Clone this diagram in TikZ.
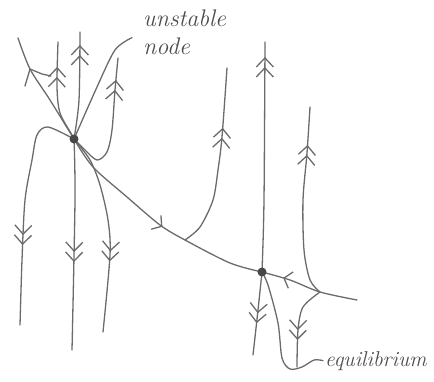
\documentclass[tikz,border=0pt]{standalone}
\usepackage{fontspec}
\usepackage{tikz}
\usetikzlibrary{arrows.meta,decorations.markings,backgrounds}
\tikzset{
  palya/.style={draw=black!58,line width=1.3pt,line cap=round,line join=round},
  egynyil/.style={postaction={decorate,decoration={markings,
      mark=at position #1 with {\arrow{Straight Barb[length=7pt,width=17pt]}}}}},
  ketnyil/.style={postaction={decorate,decoration={markings,
      mark=at position #1 with {\arrow{Straight Barb[length=9pt,width=17pt]}
        \pgftransformxshift{-10pt}\arrow{Straight Barb[length=9pt,width=17pt]}}}}},
  egyensuly/.style={circle,fill=black!72,inner sep=0pt,minimum size=9pt},
  felirat/.style={font=\fontsize{#1}{28}\selectfont\itshape,text=black!70,align=left,inner sep=0pt},
}
\begin{document}
\begin{tikzpicture}[x=1pt,y=-1pt]
  \useasboundingbox (0,0) rectangle (434,381);
  \node[egyensuly] (e1) at (74,139) {};
  \node[egyensuly] (e2) at (262,272) {};
  \node[felirat=24,anchor=north west] (instabil) at (143,10) {unstable\\node};
  \node[felirat=21.5,anchor=base west] (stabil) at (325,366) {equilibrium};
  \coordinate (s0) at (30,69);
  \coordinate (s1) at (185,240);
  \coordinate (s2) at (320,292);
  \begin{scope}[on background layer]
    \draw[palya] plot[smooth] coordinates {(e1.center) (50,100) (s0) (18,38)};
    \draw[palya] (25,86) -- (s0) -- (42,74) -- (51,76);
    \draw[palya,egynyil=-110pt] plot[smooth] coordinates {(e1.center) (93,167) (127,197) (160,225) (s1) (230,263) (e2.center)};
    \draw[palya,egynyil=-22pt] plot[smooth] coordinates {(357,300) (s2) (290,280) (e2.center)};
    \draw[palya,ketnyil=-13pt] plot[smooth] coordinates {(e1.center) (79,100) (80,32)};
    \draw[palya,ketnyil=-25pt] plot[smooth] coordinates {(e1.center) (72,135) (60,113) (57,87) (58,42)};
    \draw[palya,ketnyil=-88pt] plot[smooth] coordinates {(e1.center) (75,200) (72,350)};
    \draw[palya] plot[smooth] coordinates {(e1.center) (97,87) (115,50) ([xshift=-11pt,yshift=-5pt]instabil.west)};
    \draw[palya,ketnyil=-22pt] plot[smooth] coordinates {(e1.center) (85,150) (97,160) (107,152) (112,130) (115,90) (118,58)};
    \draw[palya,ketnyil=-80pt] plot[smooth] coordinates {(e1.center) (48,127) (37,135) (32,160) (25,200) (22,260) (20,325)};
    \draw[palya,ketnyil=-71pt] plot[smooth] coordinates {(e1.center) (90,160) (100,185) (108,220) (110,255) (103,332)};
    \draw[palya,ketnyil=-60pt] plot[smooth] coordinates {(s1) (200,227) (213,200) (218,170) (222,137) (227,68)};
    \draw[palya,ketnyil=-15pt] plot[smooth] coordinates {(e2.center) (264,200) (265,42)};
    \draw[palya,ketnyil=-32pt] plot[smooth] coordinates {(e2.center) (258,310) (253,355)};
    \draw[palya,ketnyil=-38pt] plot[smooth] coordinates {(s2) (310,280) (304,250) (303,200) (307,153) (310,107)};
    \draw[palya,ketnyil=-27pt] plot[smooth] coordinates {(s2) (303,307) (298,330) (297,367)};
    \draw[palya] plot[smooth] coordinates {(e2.center) (268,285) (278,323) (282,358) (290,369) (302,367) (314,360) ([xshift=-2pt]stabil.west)};
  \end{scope}
\end{tikzpicture}
\end{document}
